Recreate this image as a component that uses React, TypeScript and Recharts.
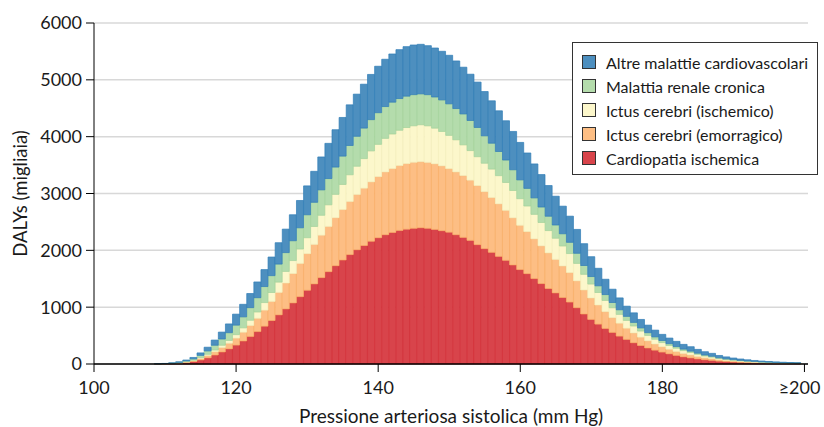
import { BarChart, Bar, XAxis, YAxis, CartesianGrid } from "recharts";

// pressione sistolica (mm Hg), one bar per unit
const sbp = [
  109, 110, 111, 112, 113, 114, 115, 116, 117, 118, 119, 120, 121, 122, 123, 124, 125, 126, 127, 128,
  129, 130, 131, 132, 133, 134, 135, 136, 137, 138, 139, 140, 141, 142, 143, 144, 145, 146, 147, 148,
  149, 150, 151, 152, 153, 154, 155, 156, 157, 158, 159, 160, 161, 162, 163, 164, 165, 166, 167, 168,
  169, 170, 171, 172, 173, 174, 175, 176, 177, 178, 179, 180, 181, 182, 183, 184, 185, 186, 187, 188,
  189, 190, 191, 192, 193, 194, 195, 196, 197, 198, 199,
];

// DALYs (migliaia), stack order bottom -> top
const cardiopatia = [
  2, 4, 7, 14, 26, 43, 72, 109, 158, 212, 267, 333, 405, 485, 570, 666, 765, 865, 970, 1075,
  1185, 1298, 1410, 1520, 1625, 1730, 1830, 1925, 2010, 2085, 2160, 2222, 2275, 2315, 2350, 2373, 2388, 2398, 2388, 2368,
  2345, 2320, 2275, 2228, 2175, 2100, 2030, 1965, 1894, 1824, 1743, 1661, 1590, 1503, 1415, 1328, 1251, 1170, 1090, 990,
  880, 784, 702, 626, 556, 491, 433, 374, 325, 282, 244, 210, 180, 152, 127, 108, 90, 75, 64, 51,
  43, 36, 30, 25, 21, 18, 15, 13, 11, 9, 8,
];
const ictusEmorragico = [
  1, 1, 3, 5, 10, 16, 27, 41, 59, 79, 99, 123, 155, 193, 235, 282, 337, 395, 455, 517,
  585, 644, 695, 747, 796, 845, 889, 935, 973, 1009, 1045, 1075, 1105, 1125, 1143, 1155, 1162, 1163, 1160, 1155,
  1142, 1118, 1105, 1088, 1060, 1040, 1003, 965, 925, 880, 830, 780, 740, 700, 665, 628, 590, 555, 520, 474,
  423, 378, 336, 296, 260, 228, 198, 173, 148, 127, 109, 94, 81, 70, 60, 52, 44, 36, 31, 25,
  20, 17, 14, 12, 10, 8, 7, 6, 5, 4, 3,
];
const ictusIschemico = [
  0, 1, 1, 3, 5, 8, 14, 21, 29, 39, 49, 61, 76, 92, 110, 133, 156, 181, 204, 228,
  253, 280, 315, 350, 380, 410, 440, 470, 497, 520, 545, 568, 590, 607, 620, 633, 642, 649, 643, 627,
  605, 585, 565, 540, 520, 508, 500, 500, 495, 490, 480, 468, 450, 430, 410, 392, 372, 352, 333, 306,
  275, 245, 220, 196, 174, 154, 136, 122, 107, 94, 82, 73, 64, 56, 49, 43, 36, 30, 26, 21,
  17, 15, 12, 10, 9, 7, 6, 5, 4, 4, 3,
];
const renale = [
  1, 2, 4, 8, 14, 23, 39, 59, 84, 110, 136, 167, 194, 222, 252, 282, 297, 317, 331, 349,
  374, 404, 425, 447, 462, 480, 499, 515, 527, 537, 550, 557, 560, 560, 558, 552, 548, 543, 548, 548,
  555, 555, 550, 544, 530, 514, 482, 455, 425, 395, 365, 331, 310, 290, 272, 252, 233, 215, 198, 178,
  155, 132, 118, 104, 92, 81, 71, 63, 55, 48, 42, 37, 32, 29, 26, 23, 20, 17, 15, 12,
  10, 8, 7, 6, 5, 4, 4, 3, 2, 2, 2,
];
const altre = [
  1, 2, 5, 8, 15, 25, 43, 65, 91, 121, 154, 193, 220, 248, 277, 298, 327, 376, 413, 457,
  480, 508, 545, 579, 619, 657, 680, 715, 741, 772, 795, 817, 832, 848, 860, 871, 873, 872, 862, 862,
  855, 854, 837, 822, 814, 798, 779, 746, 716, 691, 674, 659, 623, 597, 571, 540, 506, 485, 460, 420,
  384, 349, 308, 269, 234, 209, 179, 168, 149, 133, 119, 107, 99, 91, 83, 78, 67, 58, 51, 41,
  35, 29, 25, 21, 17, 15, 12, 10, 9, 7, 6,
];

const xTicks = [100, 120, 140, 160, 180, 200];
const yTicks = [0, 1000, 2000, 3000, 4000, 5000, 6000];

const series = [
  { key: "cardiopatia", label: "Cardiopatia ischemica", fill: "#d8444b", stroke: "#d22d35", values: cardiopatia },
  { key: "ictusEmorragico", label: "Ictus cerebri (emorragico)", fill: "#fdbe84", stroke: "#f8ad66", values: ictusEmorragico },
  { key: "ictusIschemico", label: "Ictus cerebri (ischemico)", fill: "#fcf7cb", stroke: "#f3eebb", values: ictusIschemico },
  { key: "renale", label: "Malattia renale cronica", fill: "#b4dcac", stroke: "#a3d29b", values: renale },
  { key: "altre", label: "Altre malattie cardiovascolari", fill: "#4d8fbf", stroke: "#2f7db6", values: altre },
];

const data = sbp.map((x, i) => {
  const row: Record<string, number> = { sbp: x };
  series.forEach((s) => (row[s.key] = s.values[i]));
  return row;
});

const textColor = "#1a1a1a";

// last label (≥200) is pulled left so it stays inside the frame
function XTick({ x, y, payload }: any) {
  const last = payload.value === xTicks[xTicks.length - 1];
  return (
    <text
      x={last ? x + 16 : x}
      y={y}
      dy="0.71em"
      textAnchor={last ? "end" : "middle"}
      fill={textColor}
      fontSize={18}
    >
      {last ? "≥" + payload.value : payload.value}
    </text>
  );
}

// legend drawn as a plain html box so it doesn't eat plot space
function LegendBox() {
  return (
    <div
      style={{
        position: "absolute",
        left: 572,
        top: 42,
        width: 246,
        height: 133,
        boxSizing: "border-box",
        border: "1px solid #333",
        background: "#fff",
        padding: "7px 0 0 9px",
      }}
    >
      {[...series].reverse().map((s) => (
        <div key={s.key} style={{ display: "flex", alignItems: "center", height: 24 }}>
          <span
            style={{
              width: 14,
              height: 14,
              background: s.fill,
              border: "1px solid #333",
              boxSizing: "border-box",
              marginRight: 10,
              flex: "none",
            }}
          />
          <span style={{ fontSize: 16, color: textColor, whiteSpace: "nowrap" }}>{s.label}</span>
        </div>
      ))}
    </div>
  );
}

export default function App() {
  return (
    <div
      style={{
        position: "fixed",
        left: 0,
        top: 0,
        width: 824,
        height: 427,
        fontFamily: "Lato, sans-serif",
        background: "#fff",
      }}
    >
      <BarChart
        width={824}
        height={427}
        data={data}
        margin={{ top: 23, right: 16, bottom: 4, left: 0 }}
        barCategoryGap={0}
        barGap={0}
      >
        <CartesianGrid vertical={false} stroke="#d8d8d8" strokeWidth={1.5} />
        <XAxis
          dataKey="sbp"
          type="number"
          domain={[100, 200.5]}
          ticks={xTicks}
          height={59}
          tickSize={8}
          tickMargin={9}
          axisLine={{ stroke: "#000", strokeWidth: 1.5 }}
          tickLine={{ stroke: "#000" }}
          tick={<XTick />}
          label={{
            value: "Pressione arteriosa sistolica (mm Hg)",
            position: "insideBottom",
            offset: 0,
            style: { fill: textColor, fontSize: 19 },
          }}
        />
        <YAxis
          type="number"
          domain={[0, 6000]}
          ticks={yTicks}
          width={94}
          tickSize={8}
          tickMargin={4}
          axisLine={{ stroke: "#000" }}
          tickLine={{ stroke: "#000" }}
          tick={{ fill: textColor, fontSize: 18 }}
          label={{
            value: "DALYs (migliaia)",
            angle: -90,
            position: "insideLeft",
            offset: 20,
            style: { fill: textColor, fontSize: 18.5, textAnchor: "middle" },
          }}
        />
        {series.map((s) => (
          <Bar
            key={s.key}
            dataKey={s.key}
            stackId="dalys"
            fill={s.fill}
            stroke={s.stroke}
            strokeWidth={0.7}
            name={s.label}
            isAnimationActive={false}
          />
        ))}
      </BarChart>
      <LegendBox />
    </div>
  );
}
